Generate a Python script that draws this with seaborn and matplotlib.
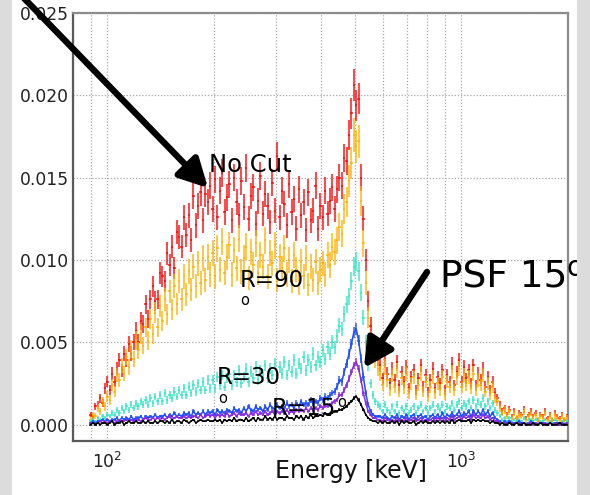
import numpy as np
import pandas as pd
import matplotlib
matplotlib.use("Agg")
import matplotlib.pyplot as plt
import seaborn as sns
from matplotlib.patches import FancyArrowPatch, Rectangle
from matplotlib.ticker import LogLocator, MultipleLocator, NullFormatter, FormatStrFormatter

# ---- histogram binning: 200 log-spaced bins between 89 keV and 2 MeV ----
E_MIN_KEV, E_MAX_KEV, N_BINS = 89.0, 2000.0, 200

# ---- normalised counts per bin (units of 1e-3) ----
no_cut = [0.6, 0.5, 1.1, 1.2, 1.6, 1.3, 2.2, 2.6, 2.1, 3.1,
          2.6, 3.4, 3.9, 3.3, 4.3, 3.9, 4.9, 4.3, 5.0, 5.7,
          5.0, 6.3, 6.1, 7.3, 6.4, 7.6, 8.4, 7.5, 7.6, 9.2,
          9.0, 8.7, 10.4, 9.7, 10.8, 9.5, 11.7, 11.4, 10.8, 12.6,
          11.5, 12.7, 11.2, 13.9, 12.1, 13.3, 14.1, 12.4, 14.0, 13.5,
          14.5,
          13.1, 14.9, 12.6, 14.2, 15.3, 12.9, 13.8, 14.6, 12.4, 15.0,
          13.5, 12.7, 14.8, 13.2, 15.6, 12.5, 13.9, 14.4, 12.2, 13.6,
          15.1, 12.8, 14.0, 13.3, 12.3, 14.7, 13.0, 16.3, 12.6, 14.2,
          13.4, 12.1, 14.6, 12.9, 13.7, 11.9, 14.3, 12.7, 13.5, 11.8,
          14.1, 12.4, 13.0, 14.5, 11.9, 13.3, 12.6, 14.2, 12.8, 13.6,
          14.4, 13.1,
          14.3, 15.0, 14.5, 16.2, 16.0, 17.6, 18.9, 20.6, 19.4, 19.8,
          15.0, 12.5, 10.0, 7.5, 6.0, 5.0, 4.5, 4.0,
          3.6, 2.8, 3.9, 3.1, 2.5, 3.4, 2.7, 3.8, 2.4, 3.2,
          2.6, 3.5, 2.2, 2.9, 3.3, 2.1, 2.8, 3.6, 2.3, 3.0,
          2.0, 2.7, 3.4, 2.2, 2.9, 2.5, 3.3, 2.1, 3.0, 2.6,
          3.7, 2.4, 3.2, 3.9, 2.6, 3.5, 2.8, 3.3, 2.5, 3.6,
          2.4, 3.1, 2.7, 3.4, 2.3, 2.9, 2.1, 2.6, 1.9, 1.6,
          1.2, 0.8, 1.0, 0.6, 0.9, 0.5, 0.8, 0.4, 0.7, 0.6,
          0.9, 0.4, 0.6, 0.8, 0.5, 0.7, 0.3, 0.6, 0.5, 0.8,
          0.4, 0.6, 0.3, 0.7, 0.5, 0.4, 0.6, 0.3, 0.5]

cut_r90 = [0.3, 0.6, 0.5, 1.0, 0.8, 1.4, 1.1, 1.7, 1.5, 2.4,
           2.0, 3.0, 2.7, 3.6, 3.1, 4.1, 3.5, 4.6, 4.0, 5.1,
           4.5, 5.5, 4.8, 5.9, 5.1, 6.4, 5.5, 6.8, 5.9, 7.2,
           6.3, 7.6, 6.7, 8.1, 7.0, 8.4, 7.3, 8.7, 7.6, 9.0,
           7.9, 9.3, 8.2, 9.6, 8.4, 9.8, 8.6, 10.1, 8.8, 10.2,
           9.1,
           10.4, 9.0, 10.7, 9.4, 11.1, 9.2, 10.2, 10.9, 9.1, 10.6,
           9.5, 11.3, 9.3, 10.1, 10.8, 8.9, 10.5, 9.7, 11.0, 9.2,
           10.3, 9.6, 11.2, 9.0, 10.4, 9.8, 10.9, 8.8, 10.2, 9.5,
           10.7, 9.1, 10.0, 8.7, 10.3, 9.4, 8.6, 9.9, 9.0, 10.1,
           8.5, 9.6, 8.8, 9.9, 8.6, 9.4, 9.8, 9.1, 10.3, 9.7,
           10.8, 10.5,
           11.2, 12.0, 11.6, 13.1, 13.5, 14.8, 15.9, 17.6, 16.9, 17.2,
           13.6, 11.0, 8.6, 6.5, 5.1, 4.3, 3.9, 3.4,
           3.1, 2.4, 3.5, 2.7, 2.1, 3.0, 2.3, 3.3, 2.0, 2.8,
           2.2, 3.1, 1.9, 2.5, 2.9, 1.8, 2.4, 3.1, 2.0, 2.6,
           1.7, 2.3, 2.9, 1.9, 2.5, 2.1, 2.9, 1.8, 2.6, 2.3,
           3.2, 2.1, 2.8, 3.4, 2.3, 3.0, 2.4, 2.9, 2.2, 3.1,
           2.1, 2.7, 2.4, 3.0, 2.0, 2.5, 1.8, 2.3, 1.6, 1.4,
           1.0, 0.7, 0.9, 0.5, 0.8, 0.4, 0.7, 0.4, 0.6, 0.5,
           0.8, 0.3, 0.5, 0.7, 0.4, 0.6, 0.3, 0.5, 0.4, 0.7,
           0.3, 0.5, 0.3, 0.6, 0.4, 0.3, 0.5, 0.3, 0.4]

cut_r30 = [0.2, 0.3, 0.2, 0.4, 0.3, 0.5, 0.4, 0.6, 0.5, 0.7,
           0.6, 0.9, 0.7, 1.0, 0.8, 1.1, 0.9, 1.2, 1.0, 1.3,
           1.1, 1.4, 1.2, 1.5, 1.2, 1.6, 1.3, 1.7, 1.4, 1.8,
           1.4, 1.9, 1.5, 1.8, 1.6, 2.0, 1.7, 2.1, 1.8, 2.2,
           1.8, 2.3, 1.9, 2.4, 2.0, 2.5, 2.1, 2.6, 2.1, 2.7,
           2.2,
           2.7, 2.2, 2.9, 2.4, 3.0, 2.3, 2.8, 3.1, 2.4, 3.0,
           2.6, 3.3, 2.5, 2.9, 3.4, 2.6, 3.2, 2.8, 3.5, 2.7,
           3.3, 2.9, 3.6, 2.8, 3.4, 3.0, 3.7, 2.9, 3.5, 3.1,
           3.8, 3.0, 3.6, 3.2, 3.9, 3.1, 3.7, 3.4, 4.1, 3.3,
           3.9, 3.5, 4.3, 3.6, 4.1, 3.8, 4.5, 4.0, 4.7, 4.3,
           5.0, 4.7,
           5.4, 6.0, 5.8, 6.7, 7.3, 7.8, 8.7, 9.6, 9.9, 9.3,
           8.0, 6.5, 5.0, 3.6, 2.5, 1.8, 1.4, 1.2,
           1.1, 0.8, 1.2, 0.9, 0.7, 1.1, 0.8, 1.2, 0.7, 1.0,
           0.8, 1.1, 0.7, 0.9, 1.1, 0.7, 1.0, 1.2, 0.8, 1.0,
           0.7, 1.0, 1.2, 0.8, 1.1, 0.9, 1.2, 0.8, 1.1, 1.0,
           1.3, 0.9, 1.2, 1.4, 1.0, 1.3, 1.1, 1.4, 1.0, 1.5,
           1.1, 1.4, 1.2, 1.6, 1.1, 1.4, 1.0, 1.3, 0.9, 0.7,
           0.5, 0.3, 0.4, 0.2, 0.4, 0.2, 0.3, 0.2, 0.3, 0.2,
           0.4, 0.1, 0.3, 0.3, 0.2, 0.3, 0.1, 0.2, 0.2, 0.3,
           0.1, 0.2, 0.1, 0.3, 0.2, 0.1, 0.2, 0.1, 0.2]

cut_r20 = [0.1, 0.2, 0.1, 0.2, 0.2, 0.3, 0.2, 0.3, 0.2, 0.3,
           0.3, 0.4, 0.2, 0.4, 0.3, 0.4, 0.3, 0.5, 0.3, 0.4,
           0.4, 0.5, 0.3, 0.5, 0.4, 0.5, 0.4, 0.6, 0.4, 0.5,
           0.5, 0.6, 0.4, 0.6, 0.5, 0.7, 0.5, 0.6, 0.5, 0.7,
           0.6, 0.7, 0.5, 0.8, 0.6, 0.7, 0.6, 0.8, 0.6, 0.8,
           0.7,
           0.8, 0.6, 0.9, 0.7, 0.8, 0.7, 0.9, 0.8, 0.7, 1.0,
           0.8, 0.9, 0.7, 1.0, 0.8, 1.1, 0.9, 0.8, 1.1, 0.9,
           1.0, 0.8, 1.1, 0.9, 1.2, 1.0, 0.9, 1.2, 1.0, 1.1,
           1.0, 1.3, 1.1, 1.2, 1.0, 1.3, 1.1, 1.4, 1.2, 1.3,
           1.2, 1.5, 1.3, 1.4, 1.3, 1.6, 1.5, 1.7, 1.6, 1.8,
           1.9, 2.0,
           2.3, 2.7, 2.6, 3.2, 3.7, 4.3, 4.9, 5.6, 5.8, 5.1,
           4.0, 2.9, 1.9, 1.2, 0.8, 0.6, 0.5, 0.5,
           0.5, 0.4, 0.6, 0.4, 0.3, 0.5, 0.4, 0.6, 0.3, 0.5,
           0.4, 0.6, 0.3, 0.5, 0.6, 0.3, 0.5, 0.6, 0.4, 0.5,
           0.3, 0.5, 0.6, 0.4, 0.6, 0.4, 0.7, 0.4, 0.6, 0.5,
           0.7, 0.5, 0.6, 0.8, 0.5, 0.7, 0.6, 0.8, 0.5, 0.8,
           0.6, 0.8, 0.6, 0.9, 0.6, 0.8, 0.5, 0.7, 0.4, 0.3,
           0.2, 0.1, 0.2, 0.1, 0.2, 0.1, 0.1, 0.1, 0.2, 0.1,
           0.1, 0.0, 0.1, 0.2, 0.1, 0.1, 0.0, 0.1, 0.1, 0.1,
           0.0, 0.1, 0.0, 0.1, 0.1, 0.0, 0.1, 0.0, 0.1]

cut_psf15 = [0.1, 0.1, 0.0, 0.1, 0.2, 0.1, 0.2, 0.1, 0.2, 0.2,
             0.1, 0.2, 0.3, 0.2, 0.2, 0.3, 0.2, 0.3, 0.2, 0.3,
             0.3, 0.2, 0.3, 0.4, 0.3, 0.3, 0.4, 0.3, 0.4, 0.3,
             0.4, 0.3, 0.4, 0.5, 0.3, 0.4, 0.5, 0.4, 0.4, 0.5,
             0.4, 0.5, 0.4, 0.5, 0.5, 0.4, 0.6, 0.4, 0.5, 0.6,
             0.5,
             0.6, 0.4, 0.6, 0.5, 0.6, 0.5, 0.7, 0.5, 0.6, 0.7,
             0.5, 0.7, 0.6, 0.6, 0.7, 0.5, 0.7, 0.6, 0.8, 0.6,
             0.7, 0.6, 0.8, 0.6, 0.7, 0.8, 0.6, 0.8, 0.7, 0.8,
             0.7, 0.9, 0.7, 0.8, 0.7, 0.9, 0.8, 0.9, 0.8, 1.0,
             0.8, 1.0, 0.9, 1.0, 0.9, 1.1, 1.0, 1.1, 1.1, 1.2,
             1.3, 1.4,
             1.5, 1.8, 1.8, 2.1, 2.4, 2.8, 3.2, 3.6, 3.8, 3.4,
             2.7, 1.9, 1.3, 0.8, 0.6, 0.4, 0.4, 0.3,
             0.3, 0.2, 0.4, 0.3, 0.2, 0.3, 0.2, 0.4, 0.2, 0.3,
             0.2, 0.4, 0.2, 0.3, 0.4, 0.2, 0.3, 0.4, 0.2, 0.3,
             0.2, 0.3, 0.4, 0.2, 0.4, 0.3, 0.4, 0.2, 0.4, 0.3,
             0.5, 0.3, 0.4, 0.5, 0.3, 0.5, 0.4, 0.5, 0.3, 0.6,
             0.4, 0.5, 0.4, 0.6, 0.4, 0.5, 0.3, 0.4, 0.2, 0.2,
             0.1, 0.1, 0.1, 0.0, 0.1, 0.1, 0.0, 0.1, 0.1, 0.0,
             0.1, 0.0, 0.1, 0.1, 0.0, 0.1, 0.0, 0.1, 0.0, 0.1,
             0.0, 0.1, 0.0, 0.1, 0.0, 0.0, 0.1, 0.0, 0.1]

cut_r15 = [0.0, 0.1, 0.0, 0.1, 0.0, 0.1, 0.1, 0.0, 0.1, 0.2,
           0.0, 0.1, 0.1, 0.2, 0.0, 0.1, 0.2, 0.1, 0.1, 0.2,
           0.1, 0.1, 0.2, 0.1, 0.2, 0.1, 0.1, 0.2, 0.1, 0.2,
           0.2, 0.1, 0.2, 0.1, 0.3, 0.1, 0.2, 0.2, 0.1, 0.3,
           0.2, 0.1, 0.2, 0.3, 0.1, 0.2, 0.3, 0.2, 0.2, 0.3,
           0.2,
           0.2, 0.3, 0.2, 0.3, 0.1, 0.3, 0.2, 0.3, 0.2, 0.4,
           0.2, 0.3, 0.3, 0.2, 0.4, 0.2, 0.3, 0.4, 0.2, 0.4,
           0.3, 0.3, 0.5, 0.3, 0.4, 0.3, 0.5, 0.3, 0.4, 0.4,
           0.3, 0.5, 0.4, 0.4, 0.3, 0.5, 0.4, 0.5, 0.3, 0.5,
           0.4, 0.6, 0.4, 0.5, 0.5, 0.6, 0.5, 0.7, 0.6, 0.6,
           0.7, 0.8,
           0.8, 0.9, 0.9, 1.0, 1.1, 1.3, 1.4, 1.6, 1.7, 1.5,
           1.2, 0.9, 0.6, 0.4, 0.3, 0.2, 0.2, 0.1,
           0.2, 0.1, 0.2, 0.1, 0.1, 0.2, 0.1, 0.2, 0.0, 0.2,
           0.1, 0.2, 0.1, 0.1, 0.2, 0.0, 0.1, 0.2, 0.1, 0.2,
           0.1, 0.1, 0.2, 0.1, 0.2, 0.1, 0.2, 0.1, 0.2, 0.1,
           0.3, 0.1, 0.2, 0.3, 0.2, 0.2, 0.2, 0.3, 0.1, 0.3,
           0.2, 0.3, 0.2, 0.3, 0.2, 0.2, 0.1, 0.2, 0.1, 0.1,
           0.0, 0.1, 0.0, 0.0, 0.1, 0.0, 0.0, 0.1, 0.0, 0.0,
           0.1, 0.0, 0.0, 0.0, 0.1, 0.0, 0.0, 0.1, 0.0, 0.0,
           0.0, 0.1, 0.0, 0.0, 0.0, 0.1, 0.0, 0.0, 0.0]

series_names = ["No Cut", "R=90", "R=30", "R=20", "PSF 15", "R=15"]
series_values = [no_cut, cut_r90, cut_r30, cut_r20, cut_psf15, cut_r15]
series_colors = ["#ff0000", "#ffb000", "#30e6c4", "#1f4fff", "#8a2be2", "#000000"]
# Poisson-like uncertainty scale per selection
err_scale = [0.0068, 0.0078, 0.0058, 0.0045, 0.0036, 0.0026]
# low-statistics selections are also joined bin to bin
joined = {"R=20", "PSF 15", "R=15"}
UNIT = 1e-3

edges = np.logspace(np.log10(E_MIN_KEV), np.log10(E_MAX_KEV), N_BINS + 1)
centres = np.sqrt(edges[:-1] * edges[1:])

frames = []
for name, vals in zip(series_names, series_values):
    frames.append(pd.DataFrame({"energy": centres,
                                "counts": np.asarray(vals) * UNIT,
                                "selection": name}))
df = pd.concat(frames, ignore_index=True)

sns.set_theme(style="white")
plt.rcParams["font.family"] = ["DejaVu Sans"]

W, H = 590, 495
fig = plt.figure(figsize=(W / 100, H / 100), dpi=100, facecolor="white")
ax = fig.add_axes([73 / W, 1 - 441 / H, (568 - 73) / W, (441 - 13) / H])
ax.set_facecolor("white")

xlo = centres - edges[:-1]
xhi = edges[1:] - centres

for i, (name, color, k) in enumerate(zip(series_names, series_colors, err_scale)):
    sub = df[df["selection"] == name]
    y = sub["counts"].to_numpy()
    yerr = k * np.sqrt(np.clip(y, 0, None))
    ax.errorbar(sub["energy"], y, yerr=yerr, xerr=[xlo, xhi], fmt="none",
                ecolor=color, elinewidth=1.4, alpha=0.72, capsize=0, zorder=3 + i)
    if name in joined:
        sns.lineplot(data=sub, x="energy", y="counts", color=color, linewidth=1.1,
                     estimator=None, sort=True, legend=False, ax=ax, zorder=3 + i)

ax.set_xscale("log")
ax.set_xlim(80, 2000)
ax.set_ylim(-0.001, 0.025)
ax.set_xlabel("")
ax.set_ylabel("")

ax.xaxis.set_major_locator(LogLocator(base=10))
ax.xaxis.set_minor_locator(LogLocator(base=10, subs=np.arange(2, 10)))
ax.xaxis.set_minor_formatter(NullFormatter())
ax.yaxis.set_major_locator(MultipleLocator(0.005))
ax.yaxis.set_minor_locator(MultipleLocator(0.001))
ax.yaxis.set_major_formatter(FormatStrFormatter("%.3f"))

ax.grid(True, which="major", color="#a8a8a8", linestyle=(0, (1, 1.5)), linewidth=0.9, zorder=0)
ax.grid(True, which="minor", axis="x", color="#a8a8a8", linestyle=(0, (1, 1.5)), linewidth=0.9, zorder=0)
ax.set_axisbelow(True)

ax.tick_params(axis="y", which="major", direction="in", length=13, width=1.2,
               color="#555555", labelsize=12.3, labelcolor="#222222", pad=3)
ax.tick_params(axis="y", which="minor", direction="in", length=6.5, width=1.0, color="#555555")
ax.tick_params(axis="x", which="major", direction="in", length=8, width=1.2,
               color="#555555", labelsize=12.3, labelcolor="#222222", pad=8)
ax.tick_params(axis="x", which="minor", direction="in", length=7, width=1.0, color="#555555")

for side, spine in ax.spines.items():
    spine.set_visible(True)
    spine.set_linewidth(1.6)
    spine.set_color("#5a5a5a" if side in ("left", "bottom") else "#8c8c8c")

# axis title
fig.text(351 / W, 1 - 478 / H, "Energy [keV]", ha="center", va="baseline",
         fontsize=17, color="#111111")

# selection labels
fig.text(209 / W, 1 - 172 / H, "No Cut", ha="left", va="baseline", fontsize=17.5, color="black")
fig.text(240 / W, 1 - 287 / H, "R=90", ha="left", va="baseline", fontsize=16.5, color="black")
fig.text(240 / W, 1 - 305 / H, "o", ha="left", va="baseline", fontsize=10.5, color="black")
fig.text(217 / W, 1 - 384 / H, "R=30", ha="left", va="baseline", fontsize=16.5, color="black")
fig.text(218 / W, 1 - 403 / H, "o", ha="left", va="baseline", fontsize=10.5, color="black")
fig.text(272 / W, 1 - 415 / H, "R=15", ha="left", va="baseline", fontsize=16.5, color="black")
fig.text(337 / W, 1 - 407 / H, "o", ha="left", va="baseline", fontsize=10.5, color="black")
fig.text(440 / W, 1 - 288 / H, "PSF 15", ha="left", va="baseline", fontsize=27, color="black")
fig.text(567 / W, 1 - 276 / H, "o", ha="left", va="baseline", fontsize=20, color="black")


def fig_xy(px, py):
    return (px / W, 1 - py / H)


for start, end in [((18, -8), (208, 188)), ((427, 272), (364, 368))]:
    arrow = FancyArrowPatch(fig_xy(*start), fig_xy(*end), transform=fig.transFigure,
                            arrowstyle="-|>,head_length=0.95,head_width=0.5",
                            mutation_scale=18, linewidth=4.6, color="black",
                            shrinkA=0, shrinkB=0, zorder=10)
    fig.add_artist(arrow)

# slide background strips at the left and right borders
fig.add_artist(Rectangle((0, 0), 12 / W, 1, transform=fig.transFigure,
                         facecolor="#dcdcdc", edgecolor="none", zorder=20))
fig.add_artist(Rectangle((577 / W, 0), 13 / W, 1, transform=fig.transFigure,
                         facecolor="#dcdcdc", edgecolor="none", zorder=20))

fig.savefig("out.png", dpi=100, facecolor="white")
